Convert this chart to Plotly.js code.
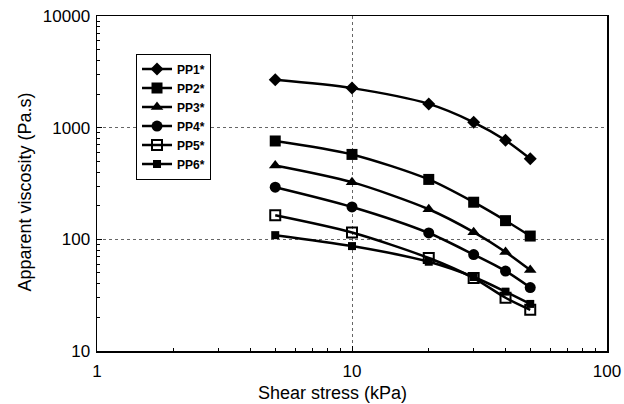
<!DOCTYPE html>
<html>
<head>
<meta charset="utf-8">
<script src="https://cdn.plot.ly/plotly-3.0.1.min.js"></script>
<style>html,body{margin:0;padding:0;background:#fff;}#chart{width:624px;height:404px;}</style>
</head>
<body>
<div id="chart"></div>
<script>
const shearStress = [5, 10, 20, 30, 40, 50];
const seriesNames = ["PP1*", "PP2*", "PP3*", "PP4*", "PP5*", "PP6*"];
const pp1 = [2680, 2260, 1633, 1118, 771, 527];
const pp2 = [760, 576, 344, 215, 147, 107];
const pp3 = [459, 325, 186, 116, 77, 53];
const pp4 = [293, 195, 114, 73, 52, 37];
const pp5 = [164, 115, 68, 45, 30, 23.4];
const pp6 = [109, 87, 63, 46, 34, 26.4];
const xTickVals = [1, 10, 100];
const yTickVals = [10, 100, 1000, 10000];
const xTitle = "Shear stress (kPa)";
const yTitle = "Apparent viscosity (Pa.s)";

const seriesValues = [pp1, pp2, pp3, pp4, pp5, pp6];
const markerStyles = [
  {symbol: "diamond", size: 10},
  {symbol: "square", size: 11},
  {symbol: "triangle-up", size: 11},
  {symbol: "circle", size: 11},
  {symbol: "square-open", size: 10, line: {width: 2, color: "#000"}},
  {symbol: "square", size: 8}
];

const traces = seriesValues.map((vals, i) => ({
  x: shearStress,
  y: vals,
  name: seriesNames[i],
  type: "scatter",
  mode: "lines+markers",
  line: {color: "#000", width: 2.5, shape: "spline", smoothing: 0.8},
  marker: Object.assign({color: "#000"}, markerStyles[i])
}));

const FONT = "Liberation Sans, Arial, sans-serif";
const axisFont = {family: FONT, size: 17, color: "#000"};

function axisCommon(range, tickVals) {
  return {
    type: "log",
    range: range,
    tickvals: tickVals,
    ticktext: tickVals.map(String),
    ticks: "inside", ticklen: 5, tickcolor: "#000",
    minor: {ticks: "inside", ticklen: 3, tickcolor: "#000", dtick: "D1", showgrid: false},
    showline: true, linecolor: "#000", linewidth: 1.5, mirror: true,
    showgrid: true, gridcolor: "#666", griddash: "dot", gridwidth: 1,
    zeroline: false,
    tickfont: axisFont
  };
}

const layout = {
  width: 624,
  height: 404,
  margin: {l: 97, r: 17, t: 16, b: 53},
  paper_bgcolor: "#fff",
  plot_bgcolor: "#fff",
  showlegend: true,
  legend: {
    x: 0.0765, y: 0.888, xanchor: "left", yanchor: "top",
    bgcolor: "#fff", bordercolor: "#000", borderwidth: 1,
    font: {family: FONT, size: 12, color: "#000", weight: "bold"},
    tracegroupgap: 0
  },
  xaxis: Object.assign(axisCommon([0, 2], xTickVals), {ticklabelstandoff: 4}),
  yaxis: Object.assign(axisCommon([1, 4], yTickVals), {ticklabelstandoff: 2}),
  annotations: [
    {text: xTitle, xref: "paper", yref: "paper", x: 0.462, y: -0.124,
     xanchor: "center", yanchor: "middle", showarrow: false,
     font: {family: FONT, size: 18, color: "#000"}},
    {text: yTitle, xref: "paper", yref: "paper", x: -0.143, y: 0.473,
     xanchor: "center", yanchor: "middle", showarrow: false, textangle: -90,
     font: {family: FONT, size: 18, color: "#000"}}
  ]
};

Plotly.newPlot("chart", traces, layout, {staticPlot: true, displayModeBar: false});
</script>
</body>
</html>
